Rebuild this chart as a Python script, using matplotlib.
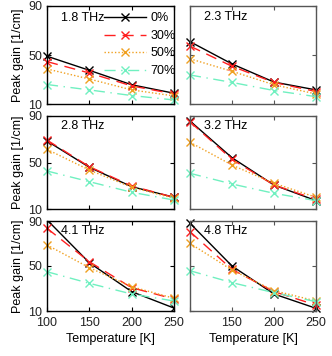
import matplotlib
matplotlib.use("Agg")
import matplotlib.pyplot as plt

plt.rcParams['font.family'] = ['Liberation Sans', 'DejaVu Sans']

temps = [100, 150, 200, 250]
freqs = ["1.8 THz", "2.3 THz", "2.8 THz", "3.2 THz", "4.1 THz", "4.8 THz"]
labels = ["0%", "30%", "50%", "70%"]

gain_18 = [[49, 37.5, 25.7, 18.8], [44.6, 35.3, 24.8, 18.2], [38.6, 30.4, 21.5, 16.6], [25.9, 21.5, 16.9, 13.3]]
gain_23 = [[60.9, 42.7, 27.9, 21.5], [57.3, 40.8, 27.6, 20.2], [46.9, 36.7, 25.7, 18.2], [33.7, 27.6, 21.0, 16.0]]
gain_28 = [[68.5, 45.9, 29.2, 20.1], [69.3, 46.4, 29.8, 20.0], [61.3, 43.5, 28.7, 19.2], [42.7, 33.5, 24.4, 17.7]]
gain_32 = [[85.7, 54.1, 30.6, 17.2], [85.0, 52.7, 30.6, 18.3], [67.4, 47.8, 32.1, 20.1], [40.7, 31.5, 23.5, 17.2]]
gain_41 = [[91.0, 52.9, 27.2, 12.6], [83.5, 53.8, 30.7, 20.7], [68.7, 48.5, 31.6, 21.3], [44.9, 34.6, 25.1, 18.9]]
gain_48 = [[88.0, 50.0, 25.1, 12.4], [80.5, 47.0, 27.2, 15.3], [70.1, 46.4, 28.1, 18.9], [45.8, 35.2, 26.3, 18.3]]
gains = [gain_18, gain_23, gain_28, gain_32, gain_41, gain_48]

colors = ['black', '#ff2020', '#f0a020', '#70f0c0']
styles = ['-', (0, (8, 5)), (0, (1, 1.5)), (0, (8, 4, 1, 4))]

W, H = 332, 356
fig = plt.figure(figsize=(W / 100, H / 100), dpi=100)

cols = [(47, 174), (190, 316)]
rows = [(6, 104), (116, 209), (221, 311)]
FS = 9

for i in range(6):
    r, c = divmod(i, 2)
    x0, x1 = cols[c]
    y0, y1 = rows[r]
    ax = fig.add_axes([x0 / W, 1 - y1 / H, (x1 - x0) / W, (y1 - y0) / H])
    edge = 'black' if c == 0 else '#555555'
    for s in ax.spines.values():
        s.set_color(edge)
        s.set_linewidth(1.0)
    for k in range(4):
        ax.plot(temps, gains[i][k], color=colors[k], linestyle=styles[k],
                marker='x', markersize=6, markeredgewidth=1.0, linewidth=1.0,
                label=labels[k], clip_on=(i == 4 and k == 0))
    ax.set_xlim(100, 250)
    ax.set_ylim(10, 90)
    ax.set_xticks([100, 150, 200, 250])
    ax.set_yticks([10, 50, 90])
    ax.tick_params(direction='in', top=True, right=True, length=3, width=0.8,
                   labelsize=FS, colors=edge, labelcolor='#222222')
    ax.tick_params(axis='x', pad=4.5)
    ax.tick_params(axis='y', pad=3.5)
    if c == 0:
        ax.set_ylabel("Peak gain [1/cm]", fontsize=FS, labelpad=3)
    else:
        ax.set_yticklabels([])
    if r == 2:
        ax.set_xlabel("Temperature [K]", fontsize=FS, labelpad=3)
        if c == 1:
            ax.set_xticklabels(["", "150", "200", "250"])
    else:
        ax.set_xticklabels([])
    if i == 0:
        ax.legend(loc='upper right', frameon=False, fontsize=FS,
                  handlelength=3.4, handletextpad=0.3, labelspacing=0.45,
                  borderaxespad=0.1, bbox_to_anchor=(1.06, 1.0))
        ax.text(0.11, 0.88, freqs[i], transform=ax.transAxes, fontsize=FS,
                ha='left', va='center')
    else:
        ax.text(0.11, 0.89, freqs[i], transform=ax.transAxes, fontsize=FS,
                ha='left', va='center')

fig.savefig("out.png", dpi=100)
